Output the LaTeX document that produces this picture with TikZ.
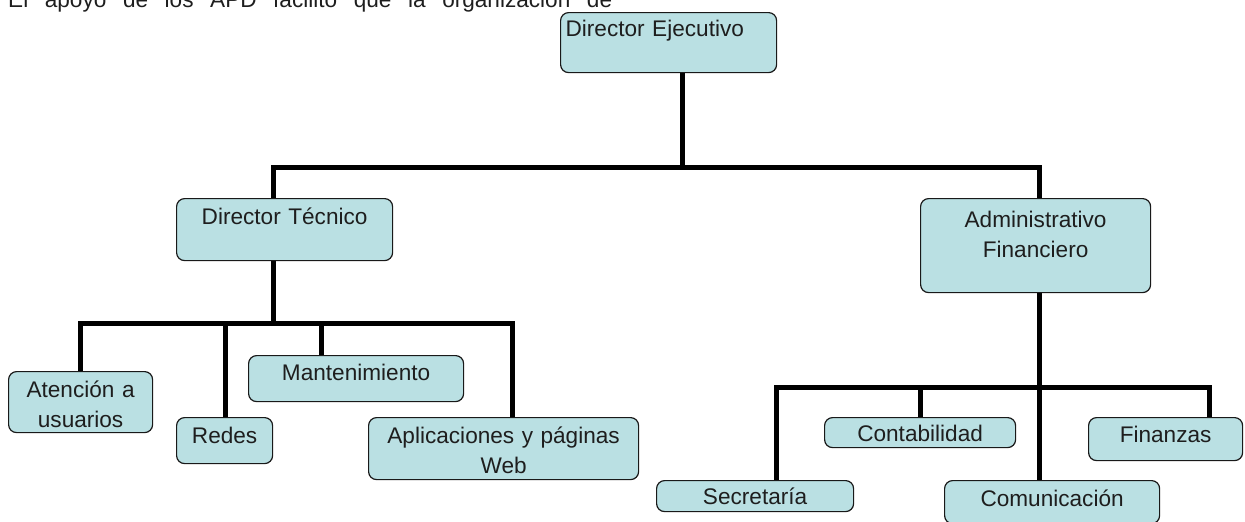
\documentclass[tikz,border=0pt]{standalone}
\usepackage{fontspec}
\setmainfont{Liberation Sans}
\usepackage{tikz}
\usetikzlibrary{positioning, calc, backgrounds}
\definecolor{unitblue}{RGB}{186, 224, 227}
\definecolor{unittext}{RGB}{30, 30, 30}
\newcommand{\unitfont}{\fontsize{22.6}{29.5}\selectfont}
\tikzset{
    unitbox/.style={draw=black!90, line width=1.2pt, rounded corners=8pt, fill=unitblue, text=unittext, font=\unitfont, align=center, inner sep=0pt, anchor=north west},
    boxsize/.style n args={3}{text width=#1, text height=#2, text depth=#3},
    orgline/.style={line width=5pt, line cap=rect, draw=black},
}

\begin{document}
\begin{tikzpicture}[x=1pt, y=-1pt]
    \useasboundingbox (0,0) rectangle (1245,522);
    \node[anchor=base west, inner sep=0pt, font=\unitfont, text=unittext] (intro) at (8,7) {\makebox[604pt][s]{El apoyo de los APD facilitó que la organización de}};

    % top level
    \node[unitbox, align=left, inner xsep=5pt, boxsize={206pt}{24pt}{36pt}] (ejec) at (560,12) {Director Ejecutivo};
    % second level
    \node[unitbox, boxsize={216pt}{26pt}{36pt}] (tec) at (176,198) {Director Técnico};
    \node[unitbox, boxsize={230pt}{29pt}{65pt}] (adm) at (920,198) {Administrativo\\Financiero};
    % under Director Tecnico
    \node[unitbox, boxsize={144pt}{26pt}{35pt}] (aten) at (8,371) {Atención a\\usuarios};
    \node[unitbox, boxsize={96pt}{26pt}{20pt}] (redes) at (176,417) {Redes};
    \node[unitbox, boxsize={215pt}{25pt}{21pt}] (mant) at (248,355) {Mantenimiento};
    \node[unitbox, boxsize={270pt}{26pt}{36pt}] (apli) at (368,417) {Aplicaciones y páginas\\Web};
    % under Administrativo Financiero
    \node[unitbox, boxsize={197pt}{24pt}{7pt}] (secr) at (656,480) {Secretaría};
    \node[unitbox, boxsize={191pt}{24pt}{6pt}] (cont) at (824,417) {Contabilidad};
    \node[unitbox, boxsize={215pt}{26pt}{17pt}] (comu) at (944,480) {Comunicación};
    \node[unitbox, boxsize={154pt}{25pt}{18pt}] (fina) at (1088,417) {Finanzas};

    \coordinate (topjoin) at (682,167);
    \coordinate (lvlonel) at (273,167);
    \coordinate (lvloner) at (1039,167);
    \coordinate (tecl) at (80,323);
    \coordinate (tecr) at (512,323);
    \coordinate (admr) at (1209,387);
    \coordinate (admj) at (1039,387);

    \begin{scope}[on background layer]
        \draw[orgline] (ejec.south -| topjoin) -- (topjoin);
        \draw[orgline] (lvlonel) -- (lvloner);
        \draw[orgline] (lvlonel) -- (lvlonel |- tec.north);
        \draw[orgline] (lvloner) -- (lvloner |- adm.north);
        % tecnico branch
        \draw[orgline] (tec.south -| lvlonel) -- (lvlonel |- tecl);
        \draw[orgline] (tecl) -- (tecr);
        \draw[orgline] (tecl) -- (tecl |- aten.north);
        \draw[orgline] (225,323) -- (225,323 |- redes.north);
        \draw[orgline] (321,323) -- (321,323 |- mant.north);
        \draw[orgline] (tecr) -- (tecr |- apli.north);
        % administrativo branch
        \draw[orgline] (adm.south -| lvloner) -- (lvloner |- comu.north);
        \draw[orgline] (776,387) -- (admr);
        \draw[orgline] (776,387) -- (776,387 |- secr.north);
        \draw[orgline] (920,387) -- (920,387 |- cont.north);
        \draw[orgline] (admr) -- (admr |- fina.north);
    \end{scope}
\end{tikzpicture}
\end{document}
